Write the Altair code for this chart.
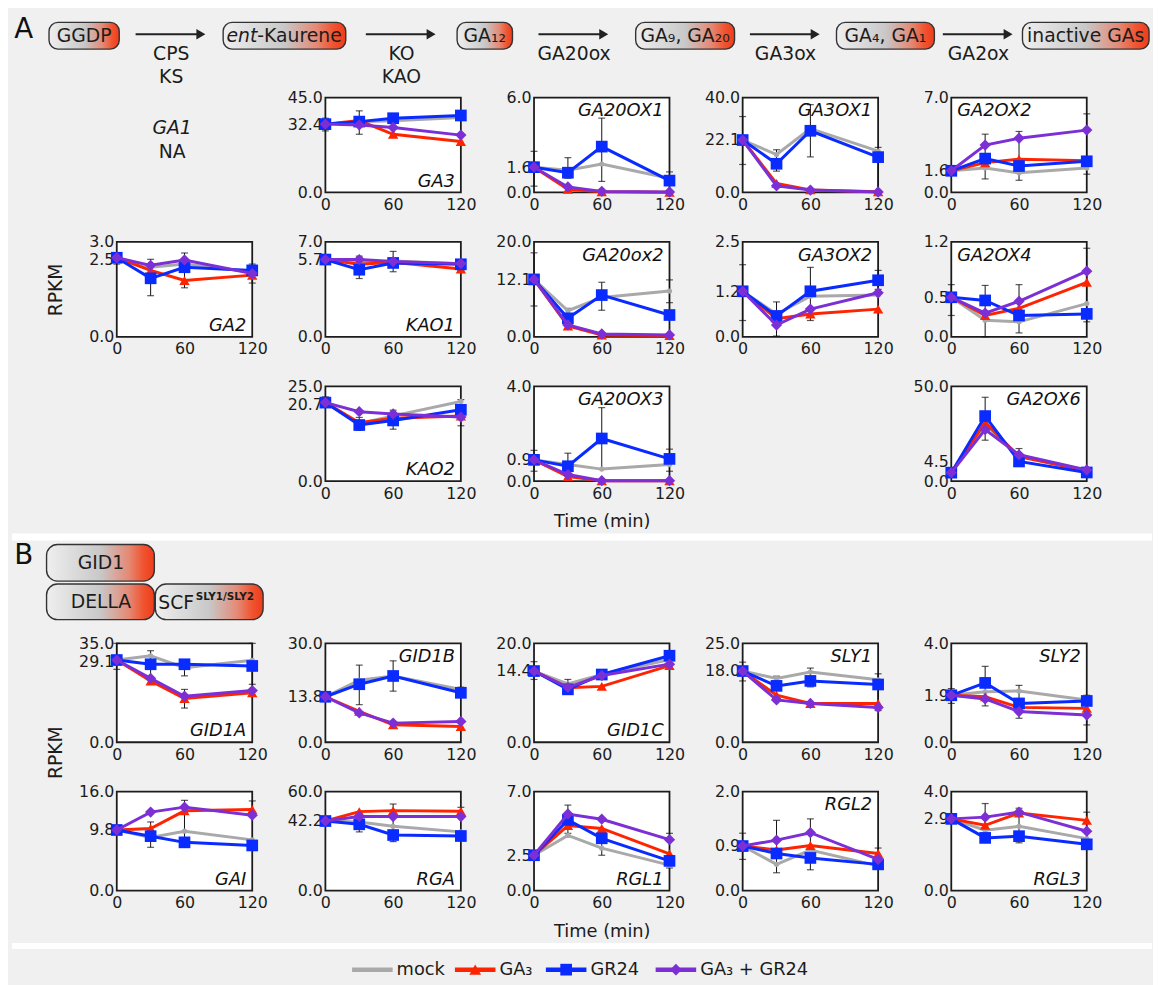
import altair as alt
import pandas as pd

# ---------------------------------------------------------------- data
TIMES = [0, 30, 60, 120]
SERIES = ["mock", "GA₃", "GR24", "GA₃ + GR24"]
SERIES_KEYS = ["mock", "ga3", "gr24", "both"]
SERIES_COLORS = ["#a9a9a9", "#ff2400", "#0a2bff", "#7b2fd4"]
SERIES_SHAPES = ["circle", "triangle-up", "square", "diamond"]
SERIES_SIZES = [28, 110, 140, 130]

# per gene: y-axis top, labelled time-0 level, RPKM of each treatment at 0/30/60/120 min,
# and error bars (time, low, high)
GA3 = dict(top=45.0, t0=32.4,
           mock=[32.4, 33.5, 34.0, 35.5], ga3=[32.4, 34.1, 27.6, 24.2],
           gr24=[32.4, 33.6, 35.2, 36.5], both=[32.4, 32.0, 30.8, 27.2],
           err=[(0, 29.2, 35.2), (30, 27.6, 38.7)])
GA20OX1 = dict(top=6.0, t0=1.6,
               mock=[1.6, 1.4, 1.8, 0.9], ga3=[1.6, 0.2, 0.05, 0.02],
               gr24=[1.6, 1.25, 2.9, 0.75], both=[1.6, 0.35, 0.07, 0.03],
               err=[(0, 0.4, 2.6), (30, 0.9, 2.2), (60, 0.7, 4.7), (120, 0.0, 1.3)])
GA3OX1 = dict(top=40.0, t0=22.1,
              mock=[22.1, 16.0, 26.9, 17.4], ga3=[22.1, 3.8, 1.1, 0.3],
              gr24=[22.1, 12.1, 26.0, 14.9], both=[22.1, 2.8, 1.0, 0.2],
              err=[(0, 11.8, 32.0), (30, 9.0, 18.0), (60, 15.0, 37.0), (120, 0.0, 19.0)])
GA2OX2 = dict(top=7.0, t0=1.6,
              mock=[1.6, 1.8, 1.45, 1.8], ga3=[1.6, 2.2, 2.45, 2.35],
              gr24=[1.6, 2.5, 1.95, 2.3], both=[1.6, 3.5, 4.0, 4.6],
              err=[(30, 1.0, 4.3), (60, 0.9, 4.5), (120, 1.35, 5.8)])
GA2 = dict(top=3.0, t0=2.5,
           mock=[2.5, 2.2, 2.3, 2.05], ga3=[2.5, 2.1, 1.78, 1.95],
           gr24=[2.5, 1.85, 2.2, 2.1], both=[2.5, 2.26, 2.43, 2.0],
           err=[(0, 2.3, 2.65), (30, 1.3, 2.45), (60, 1.55, 2.65), (120, 1.7, 2.3)])
KAO1 = dict(top=7.0, t0=5.7,
            mock=[5.7, 5.5, 5.6, 5.4], ga3=[5.7, 5.35, 5.5, 5.0],
            gr24=[5.7, 4.95, 5.45, 5.35], both=[5.7, 5.7, 5.55, 5.4],
            err=[(30, 4.3, 5.95), (60, 4.8, 6.3), (120, 4.9, 5.6)])
GA20OX2 = dict(top=20.0, t0=12.1,
               mock=[12.1, 5.5, 8.3, 9.65], ga3=[12.1, 2.3, 0.4, 0.3],
               gr24=[12.1, 3.9, 8.8, 4.6], both=[12.1, 2.5, 0.6, 0.4],
               err=[(0, 6.5, 17.7), (30, 2.5, 6.0), (60, 5.6, 11.5), (120, 7.2, 12.0)])
GA3OX2 = dict(top=2.5, t0=1.2,
              mock=[1.2, 0.6, 1.07, 1.1], ga3=[1.2, 0.48, 0.6, 0.73],
              gr24=[1.2, 0.55, 1.2, 1.49], both=[1.2, 0.31, 0.73, 1.16],
              err=[(0, 0.43, 1.9), (30, 0.02, 0.92), (60, 0.43, 1.83), (120, 1.25, 1.75)])
GA2OX4 = dict(top=1.2, t0=0.5,
              mock=[0.5, 0.21, 0.19, 0.42], ga3=[0.5, 0.27, 0.36, 0.69],
              gr24=[0.5, 0.46, 0.27, 0.29], both=[0.5, 0.30, 0.45, 0.83],
              err=[(0, 0.27, 0.66), (30, 0.0, 0.65), (60, 0.05, 0.66), (120, 0.19, 1.12)])
KAO2 = dict(top=25.0, t0=20.7,
            mock=[20.7, 15.2, 17.2, 21.0], ga3=[20.7, 15.4, 16.6, 17.2],
            gr24=[20.7, 14.8, 16.0, 18.8], both=[20.7, 18.3, 17.7, 16.9],
            err=[(0, 19.6, 22.2), (30, 13.4, 16.8), (60, 13.7, 18.7), (120, 14.6, 21.5)])
GA20OX3 = dict(top=4.0, t0=0.9,
               mock=[0.9, 0.7, 0.51, 0.7], ga3=[0.9, 0.2, 0.02, 0.02],
               gr24=[0.9, 0.63, 1.8, 0.94], both=[0.9, 0.28, 0.02, 0.02],
               err=[(0, 0.42, 1.3), (30, 0.0, 1.18), (60, 0.5, 3.1), (120, 0.42, 1.35)])
GA2OX6 = dict(top=50.0, t0=4.5, lift=11,
              mock=[4.5, 29.9, 13.4, 5.2], ga3=[4.5, 31.0, 12.9, 5.5],
              gr24=[4.5, 34.3, 10.4, 4.6], both=[4.5, 27.2, 13.9, 5.9],
              err=[(30, 21.6, 44.2), (60, 7.9, 17.2)])
GID1A = dict(top=35.0, t0=29.1,
             mock=[29.1, 30.6, 26.4, 29.0], ga3=[29.1, 21.7, 15.5, 17.5],
             gr24=[29.1, 27.6, 27.6, 27.0], both=[29.1, 22.6, 16.3, 18.3],
             err=[(0, 25.8, 35.0), (30, 20.5, 32.4), (60, 12.1, 18.7), (60, 23.5, 28.0), (120, 20.5, 35.0)])
GID1B = dict(top=30.0, t0=13.8,
             mock=[13.8, 18.8, 20.1, 16.0], ga3=[13.8, 9.4, 5.3, 4.8],
             gr24=[13.8, 17.6, 20.1, 15.0], both=[13.8, 8.9, 5.8, 6.3],
             err=[(0, 12.8, 14.8), (30, 11.4, 23.4), (60, 15.5, 24.7), (120, 14.3, 16.7)])
GID1C = dict(top=20.0, t0=14.4,
             mock=[14.4, 11.8, 13.7, 16.7], ga3=[14.4, 11.0, 11.3, 15.5],
             gr24=[14.4, 10.7, 13.7, 17.5], both=[14.4, 11.1, 13.5, 15.8],
             err=[(0, 12.7, 16.3), (30, 9.7, 12.7)])
SLY1 = dict(top=25.0, t0=18.0,
            mock=[18.0, 16.1, 17.75, 15.8], ga3=[18.0, 11.9, 9.8, 9.8],
            gr24=[18.0, 14.25, 15.5, 14.6], both=[18.0, 10.7, 9.8, 8.8],
            err=[(0, 15.5, 20.25), (30, 13.6, 16.7), (60, 14.0, 18.75), (120, 8.0, 17.3)])
SLY2 = dict(top=4.0, t0=1.9,
            mock=[1.9, 2.04, 2.07, 1.71], ga3=[1.9, 1.84, 1.41, 1.37],
            gr24=[1.9, 2.4, 1.57, 1.67], both=[1.9, 1.75, 1.24, 1.1],
            err=[(0, 1.57, 2.17), (30, 1.47, 3.07), (60, 0.97, 2.3), (120, 0.7, 1.9)])
GAI = dict(top=16.0, t0=9.8,
           mock=[9.8, 8.6, 9.6, 8.2], ga3=[9.8, 10.05, 12.9, 13.1],
           gr24=[9.8, 8.8, 7.8, 7.3], both=[9.8, 12.7, 13.5, 12.2],
           err=[(30, 7.0, 11.1), (60, 7.1, 14.6), (120, 12.1, 14.5)])
RGA = dict(top=60.0, t0=42.2,
           mock=[42.2, 41.6, 39.0, 35.6], ga3=[42.2, 47.9, 48.5, 48.1],
           gr24=[42.2, 40.2, 33.7, 33.1], both=[42.2, 44.9, 44.9, 44.9],
           err=[(30, 35.6, 43.6), (60, 29.7, 52.5), (120, 45.5, 50.5)])
RGL1 = dict(top=7.0, t0=2.5,
            mock=[2.5, 3.9, 3.0, 1.8], ga3=[2.5, 4.6, 4.4, 2.6],
            gr24=[2.5, 5.0, 3.7, 2.1], both=[2.5, 5.42, 5.05, 3.6],
            err=[(30, 4.05, 6.05), (60, 2.5, 3.6), (120, 1.6, 4.05)])
RGL2 = dict(top=2.0, t0=0.9,
            mock=[0.9, 0.53, 0.82, 0.5], ga3=[0.9, 0.82, 0.91, 0.75],
            gr24=[0.9, 0.75, 0.66, 0.53], both=[0.9, 1.02, 1.17, 0.63],
            err=[(0, 0.63, 1.16), (30, 0.36, 1.42), (60, 0.42, 1.45), (120, 0.51, 0.86)])
RGL3 = dict(top=4.0, t0=2.9,
            mock=[2.9, 2.44, 2.6, 2.1], ga3=[2.9, 2.64, 3.14, 2.84],
            gr24=[2.9, 2.13, 2.2, 1.87], both=[2.9, 2.97, 3.17, 2.4],
            err=[(30, 2.55, 3.52), (60, 1.93, 3.33), (120, 2.71, 3.17)])

# panel arrangement: (gene label, data, label corner)
A_GRID = [
    ["GA1NA", ("GA3", GA3, "br"), ("GA20OX1", GA20OX1, "tr"), ("GA3OX1", GA3OX1, "tr"), ("GA2OX2", GA2OX2, "tl")],
    [("GA2", GA2, "br"), ("KAO1", KAO1, "br"), ("GA20ox2", GA20OX2, "tr"), ("GA3OX2", GA3OX2, "tr"), ("GA2OX4", GA2OX4, "tl")],
    [None, ("KAO2", KAO2, "br"), ("GA20OX3", GA20OX3, "tr"), None, ("GA2OX6", GA2OX6, "tr")],
]
B_GRID = [
    [("GID1A", GID1A, "br"), ("GID1B", GID1B, "tr"), ("GID1C", GID1C, "br"), ("SLY1", SLY1, "tr"), ("SLY2", SLY2, "tr")],
    [("GAI", GAI, "br"), ("RGA", RGA, "br"), ("RGL1", RGL1, "br"), ("RGL2", RGL2, "tr"), ("RGL3", RGL3, "br")],
]

# pathway diagram
PATH_LABELS = ["GGDP", "ent-Kaurene", "GA₁₂", "GA₉, GA₂₀", "GA₄, GA₁", "inactive GAs"]
ENZYMES = [["CPS", "KS"], ["KO", "KAO"], ["GA20ox"], ["GA3ox"], ["GA2ox"]]

# ---------------------------------------------------------------- layout / style
FULL_W = 1153
W0, PW = 32, 137
HA, HB = 96, 100
H_DIAG_A, H_DIAG_B, H_LEG = 31, 64, 44
FONT = "DejaVu Sans"
TICK_FS = 16
INK = "#1c1c1c"
BG = "#eff0ef"
NOVIEW = alt.ViewBackground(fill="transparent", stroke="transparent")
GRAD = {"gradient": "linear", "x1": 0, "y1": 0, "x2": 1, "y2": 0,
        "stops": [{"offset": 0, "color": "#efefef"}, {"offset": 0.5, "color": "#c8c8c8"},
                  {"offset": 0.76, "color": "#e48a76"}, {"offset": 0.9, "color": "#f0532f"},
                  {"offset": 1, "color": "#ee3c1c"}]}


def px_enc(h):
    xs = alt.Scale(domain=[0, W0], nice=False, zero=False)
    ys = alt.Scale(domain=[0, h], nice=False, zero=False, reverse=True)
    return (lambda f: alt.X(f, scale=xs, axis=None)), (lambda f: alt.Y(f, scale=ys, axis=None))


def blank(w, h):
    return (alt.Chart(pd.DataFrame({"a": [0]})).mark_point(opacity=0)
            .encode(x=alt.value(0), y=alt.value(0)).properties(width=w, height=h, view=NOVIEW))


def panel(name, d, corner, h, xtitle=False, ytitle_y=None):
    rows = []
    for k, key in enumerate(SERIES_KEYS):
        for t, v in zip(TIMES, d[key]):
            rows.append({"s": SERIES[k], "time": t, "value": v})
    df = pd.DataFrame(rows)
    edf = pd.DataFrame(d["err"], columns=["time", "lo", "hi"])
    xs = alt.Scale(domain=[0, 120], nice=False, zero=False)
    ys = alt.Scale(domain=[0, d["top"]], nice=False, zero=False)
    xkw = dict(values=[0, 60, 120], format="d", labelFlush=False, labelOverlap=False,
               labelPadding=4, title=None)
    if xtitle:
        xkw.update(title="Time (min)", titlePadding=12)
    ykw = dict(values=[0, d["t0"], d["top"]], format=".1f", labelFlush=False,
               labelOverlap=False, title=None)
    if ytitle_y is not None:
        ykw.update(title="RPKM", titleX=-62, titleY=ytitle_y, titleAngle=270,
                   titleAlign="center", titleBaseline="middle", titleFontSize=19)
    # keep the time-0 tick label clear of its neighbour
    gap_top = (d["top"] - d["t0"]) / d["top"] * h
    if "lift" in d:
        shift = -d["lift"]
    elif gap_top < TICK_FS + 2:
        shift = TICK_FS + 2 - gap_top
    else:
        shift = 0
    if shift:
        ykw["labelOffset"] = {"condition": {"test": f"datum.value == {d['t0']}", "value": round(shift, 1)},
                              "value": 0}
    X = alt.X("time:Q", scale=xs, axis=alt.Axis(**xkw))
    yax = alt.Axis(**ykw)
    ebase = alt.Chart(edf)
    layers = [
        ebase.mark_rule(color="#111", strokeWidth=1).encode(
            x=X, y=alt.Y("lo:Q", scale=ys, axis=yax), y2="hi:Q"),
        ebase.transform_fold(["lo", "hi"], as_=["k", "v"]).mark_tick(
            orient="horizontal", color="#111", size=7, thickness=1.2).encode(
            x=X, y=alt.Y("v:Q", scale=ys, axis=yax)),
    ]
    for k in range(4):
        c = alt.Chart(df[df["s"] == SERIES[k]])
        Y = alt.Y("value:Q", scale=ys, axis=yax)
        layers.append(c.mark_line(color=SERIES_COLORS[k], strokeWidth=3).encode(x=X, y=Y))
        layers.append(c.mark_point(shape=SERIES_SHAPES[k], filled=True, opacity=1,
                                   size=SERIES_SIZES[k], color=SERIES_COLORS[k]).encode(x=X, y=Y))
    if corner == "tr":
        lx, ly, al = PW - 6, 14, "right"
    elif corner == "br":
        lx, ly, al = PW - 6, h - 11, "right"
    else:
        lx, ly, al = 6, 14, "left"
    layers.append(alt.Chart(pd.DataFrame({"g": [name]})).mark_text(
        fontSize=18, fontStyle="italic", align=al, baseline="middle", color="#111").encode(
        x=alt.value(lx), y=alt.value(ly), text="g:N"))
    return alt.layer(*layers).properties(width=PW, height=h)


def ga1_cell(h):
    df = pd.DataFrame({"t": ["GA1"]})
    df2 = pd.DataFrame({"t": ["NA"]})
    a = alt.Chart(df).mark_text(fontSize=19, fontStyle="italic", color=INK).encode(
        x=alt.value(56), y=alt.value(31), text="t:N")
    b = alt.Chart(df2).mark_text(fontSize=19, color=INK).encode(
        x=alt.value(56), y=alt.value(55), text="t:N")
    return alt.layer(a, b).properties(width=PW, height=h, view=NOVIEW)


def diagram_a():
    h = H_DIAG_A
    X, Y = px_enc(h)
    step, c0 = 202.6, 73
    bw = [71, 124, 56, 100, 99, 128]
    cx = [c0 + step * i for i in range(6)]
    boxes = pd.DataFrame({"x0": [c - w / 2 for c, w in zip(cx, bw)],
                          "x1": [c + w / 2 for c, w in zip(cx, bw)],
                          "y0": [5] * 6, "y1": [32] * 6})
    labels = pd.DataFrame({"x": [c for i, c in enumerate(cx) if i != 1],
                           "y": [19] * 5, "text": [l for i, l in enumerate(PATH_LABELS) if i != 1]})
    ent_it = pd.DataFrame({"x": [cx[1] - 27.5], "y": [19], "text": ["ent"]})
    ent_rest = pd.DataFrame({"x": [cx[1] - 27.5], "y": [19], "text": ["-Kaurene"]})
    gaps = [((cx[i] + bw[i] / 2) + (cx[i + 1] - bw[i + 1] / 2)) / 2 for i in range(5)]
    arrows = pd.DataFrame({"x0": [g - 36 for g in gaps], "x1": [g + 30 for g in gaps], "y": [17] * 5})
    heads = pd.DataFrame({"x": [g + 30 for g in gaps], "y": [17] * 5})
    ex, ey, et = [], [], []
    for g, names in zip(gaps, ENZYMES):
        for j, n in enumerate(names):
            ex.append(g); ey.append(37 + 23 * j); et.append(n)
    enz = pd.DataFrame({"x": ex, "y": ey, "text": et})
    letter = pd.DataFrame({"x": [12], "y": [13], "text": ["A"]})
    layers = [
        alt.Chart(boxes).mark_rect(fill=GRAD, stroke="#333", strokeWidth=1.4, cornerRadius=9).encode(
            x=X("x0:Q"), x2="x1:Q", y=Y("y0:Q"), y2="y1:Q"),
        alt.Chart(labels).mark_text(fontSize=19, color=INK, baseline="middle").encode(
            x=X("x:Q"), y=Y("y:Q"), text="text:N"),
        alt.Chart(ent_it).mark_text(fontSize=19, fontStyle="italic", align="right", color=INK,
                                    baseline="middle").encode(x=X("x:Q"), y=Y("y:Q"), text="text:N"),
        alt.Chart(ent_rest).mark_text(fontSize=19, align="left", color=INK, baseline="middle").encode(
            x=X("x:Q"), y=Y("y:Q"), text="text:N"),
        alt.Chart(arrows).mark_rule(color="#222", strokeWidth=2).encode(
            x=X("x0:Q"), x2="x1:Q", y=Y("y:Q")),
        alt.Chart(heads).mark_point(shape="triangle-right", filled=True, opacity=1, color="#222",
                                    size=110).encode(x=X("x:Q"), y=Y("y:Q")),
        alt.Chart(enz).mark_text(fontSize=19, color=INK, baseline="middle").encode(
            x=X("x:Q"), y=Y("y:Q"), text="text:N"),
        alt.Chart(letter).mark_text(fontSize=28, color="#111", baseline="middle").encode(
            x=X("x:Q"), y=Y("y:Q"), text="text:N"),
    ]
    return alt.layer(*layers).properties(width=W0, height=h, view=NOVIEW)


def diagram_b():
    h = H_DIAG_B
    X, Y = px_enc(h)
    sep = pd.DataFrame({"x0": [0], "x1": [FULL_W], "y0": [3], "y1": [10]})
    boxes = pd.DataFrame({"x0": [35, 35, 145], "x1": [144, 144, 254],
                          "y0": [14, 54, 54], "y1": [51, 90, 90]})
    texts = pd.DataFrame({"x": [90, 90], "y": [33, 72], "text": ["GID1", "DELLA"]})
    scf = pd.DataFrame({"x": [148], "y": [73], "text": ["SCF"]})
    sup = pd.DataFrame({"x": [186], "y": [67], "text": ["SLY1/SLY2"]})
    letter = pd.DataFrame({"x": [12], "y": [26], "text": ["B"]})
    layers = [
        alt.Chart(sep).mark_rect(color="white").encode(x=X("x0:Q"), x2="x1:Q", y=Y("y0:Q"), y2="y1:Q"),
        alt.Chart(boxes).mark_rect(fill=GRAD, stroke="#333", strokeWidth=1.4, cornerRadius=11).encode(
            x=X("x0:Q"), x2="x1:Q", y=Y("y0:Q"), y2="y1:Q"),
        alt.Chart(texts).mark_text(fontSize=19, color=INK, baseline="middle").encode(
            x=X("x:Q"), y=Y("y:Q"), text="text:N"),
        alt.Chart(scf).mark_text(fontSize=19, color=INK, baseline="middle", align="left").encode(
            x=X("x:Q"), y=Y("y:Q"), text="text:N"),
        alt.Chart(sup).mark_text(fontSize=10.5, fontWeight="bold", color=INK, baseline="middle",
                                 align="left").encode(x=X("x:Q"), y=Y("y:Q"), text="text:N"),
        alt.Chart(letter).mark_text(fontSize=28, color="#111", baseline="middle").encode(
            x=X("x:Q"), y=Y("y:Q"), text="text:N"),
    ]
    return alt.layer(*layers).properties(width=W0, height=h, view=NOVIEW)


def legend_cell():
    h = H_LEG
    X, Y = px_enc(h)
    sep = pd.DataFrame({"x0": [0], "x1": [FULL_W], "y0": [3], "y1": [9]})
    starts = [344, 448, 540, 651]
    yy = 30
    layers = [alt.Chart(sep).mark_rect(color="white").encode(
        x=X("x0:Q"), x2="x1:Q", y=Y("y0:Q"), y2="y1:Q")]
    for k in range(4):
        seg = pd.DataFrame({"x0": [starts[k]], "x1": [starts[k] + 41], "xm": [starts[k] + 20.5],
                            "xt": [starts[k] + 45], "y": [yy], "text": [SERIES[k]]})
        c = alt.Chart(seg)
        layers.append(c.mark_rule(color=SERIES_COLORS[k], strokeWidth=4.5).encode(
            x=X("x0:Q"), x2="x1:Q", y=Y("y:Q")))
        if k > 0:
            layers.append(c.mark_point(shape=SERIES_SHAPES[k], filled=True, opacity=1,
                                       size=140, color=SERIES_COLORS[k]).encode(x=X("xm:Q"), y=Y("y:Q")))
        layers.append(c.mark_text(fontSize=18, color=INK, align="left", baseline="middle").encode(
            x=X("xt:Q"), y=Y("y:Q"), text="text:N"))
    return alt.layer(*layers).properties(width=W0, height=h, view=NOVIEW)


# ---------------------------------------------------------------- assemble grid
cells = [diagram_a()] + [blank(PW, H_DIAG_A) for _ in range(5)]
for r, row in enumerate(A_GRID):
    cells.append(blank(W0, HA))
    for c, item in enumerate(row):
        if item is None:
            cells.append(blank(PW, HA))
        elif item == "GA1NA":
            cells.append(ga1_cell(HA))
        else:
            name, d, corner = item
            cells.append(panel(name, d, corner, HA,
                               xtitle=(r == 2 and c == 2),
                               ytitle_y=(HA / 2 if (r == 1 and c == 0) else None)))
cells += [diagram_b()] + [blank(PW, H_DIAG_B) for _ in range(5)]
for r, row in enumerate(B_GRID):
    cells.append(blank(W0, HB))
    for c, item in enumerate(row):
        name, d, corner = item
        cells.append(panel(name, d, corner, HB,
                           xtitle=(r == 1 and c == 2),
                           ytitle_y=(110 if (r == 0 and c == 0) else None)))
cells += [legend_cell()] + [blank(PW, H_LEG) for _ in range(5)]

chart = (
    alt.concat(*cells, columns=6, spacing={"row": 50, "column": 74}, bounds="flush", align="each")
    .properties(padding=0)
    .configure(background=BG, font=FONT)
    .configure_view(fill="white", stroke=INK, strokeWidth=1.8)
    .configure_axis(labelFont=FONT, labelFontSize=TICK_FS, labelColor=INK, ticks=False, domain=False,
                    grid=False, labelPadding=3, titleFont=FONT, titleFontSize=18,
                    titleFontWeight="normal", titleColor=INK)
)

chart.save("out.html", embed_options={"renderer": "svg", "actions": False})
